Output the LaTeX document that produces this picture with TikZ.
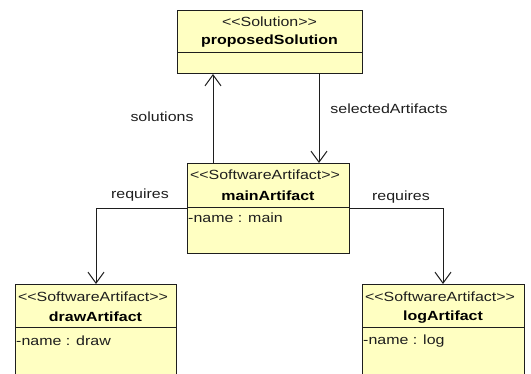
\documentclass[tikz,border=0pt]{standalone}
\usepackage{fontspec}
\setmainfont{Liberation Sans}[FakeStretch=1.2,Ligatures=NoCommon]
\usetikzlibrary{arrows.meta}
\definecolor{boxfill}{RGB}{255,255,194}
\definecolor{ink}{RGB}{30,30,30}
\newcommand{\guil}[1]{<{}<#1>{}>}
\tikzset{
  classbox/.style={draw=ink, line width=1pt, fill=boxfill, inner sep=0pt, anchor=north west},
  stereo/.style={font=\fontsize{13.3}{15}\selectfont, text=ink, inner sep=0pt},
  cname/.style={font=\fontsize{13.3}{15}\selectfont\bfseries, text=black, inner sep=0pt},
  attr/.style={font=\fontsize{13.3}{15}\selectfont, text=ink, inner sep=0pt, anchor=west},
  lbl/.style={font=\fontsize{13.3}{15}\selectfont, text=ink, inner sep=0pt},
  conn/.style={draw=ink, line width=1pt, -{Straight Barb[length=11pt,width=16pt,line width=1pt]}}
}
\begin{document}
\begin{tikzpicture}[x=1pt,y=-1pt]
\clip (0,0) rectangle (531,373);
\fill[white] (0,0) rectangle (531,373);
% top box
\node[classbox, minimum width=185pt, minimum height=63pt] (sol) at (177,10) {};
\draw[ink, line width=1pt] (177,52) -- (362,52);
\node[stereo] (solst) at (269.5,21.5) {\guil{Solution}};
\node[cname] (solnm) at (269.5,41.5) {proposedSolution};
% main box
\node[classbox, minimum width=162pt, minimum height=90pt] (main) at (187,163) {};
\draw[ink, line width=1pt] (187,207) -- (349,207);
\node[stereo] (mainst) at (265,174.5) {\guil{SoftwareArtifact}};
\node[cname] (mainnm) at (268,195.5) {mainArtifact};
\node[attr] (mainat) at (188,218) {-name : main};
% draw box
\node[classbox, minimum width=161pt, minimum height=110pt] (draw) at (15,284) {};
\draw[ink, line width=1pt] (15,327) -- (176,327);
\node[stereo] (drawst) at (93,296.5) {\guil{SoftwareArtifact}};
\node[cname] (drawnm) at (95.5,317) {drawArtifact};
\node[attr] (drawat) at (16,341) {-name : draw};
% log box
\node[classbox, minimum width=162pt, minimum height=110pt] (log) at (362,284) {};
\draw[ink, line width=1pt] (362,327) -- (524,327);
\node[stereo] (logst) at (440,296.5) {\guil{SoftwareArtifact}};
\node[cname] (lognm) at (443,317) {logArtifact};
\node[attr] (logat) at (363,341) {-name : log};
% connectors
\draw[conn] ([xshift=26pt]main.north west) -- ([xshift=36pt]sol.south west);
\draw[conn] ([xshift=142pt]sol.south west) -- ([xshift=132pt]main.north west);
\draw[conn] ([yshift=-45pt]main.north west) -| ([xshift=81pt]draw.north west);
\draw[conn] ([yshift=-45pt]main.north east) -| ([xshift=81pt]log.north west);
% labels
\node[lbl] (l1) at (162,117) {solutions};
\node[lbl] (l2) at (389,109) {selectedArtifacts};
\node[lbl] (l3) at (140,195) {requires};
\node[lbl] (l4) at (401,197) {requires};
\end{tikzpicture}
\end{document}
